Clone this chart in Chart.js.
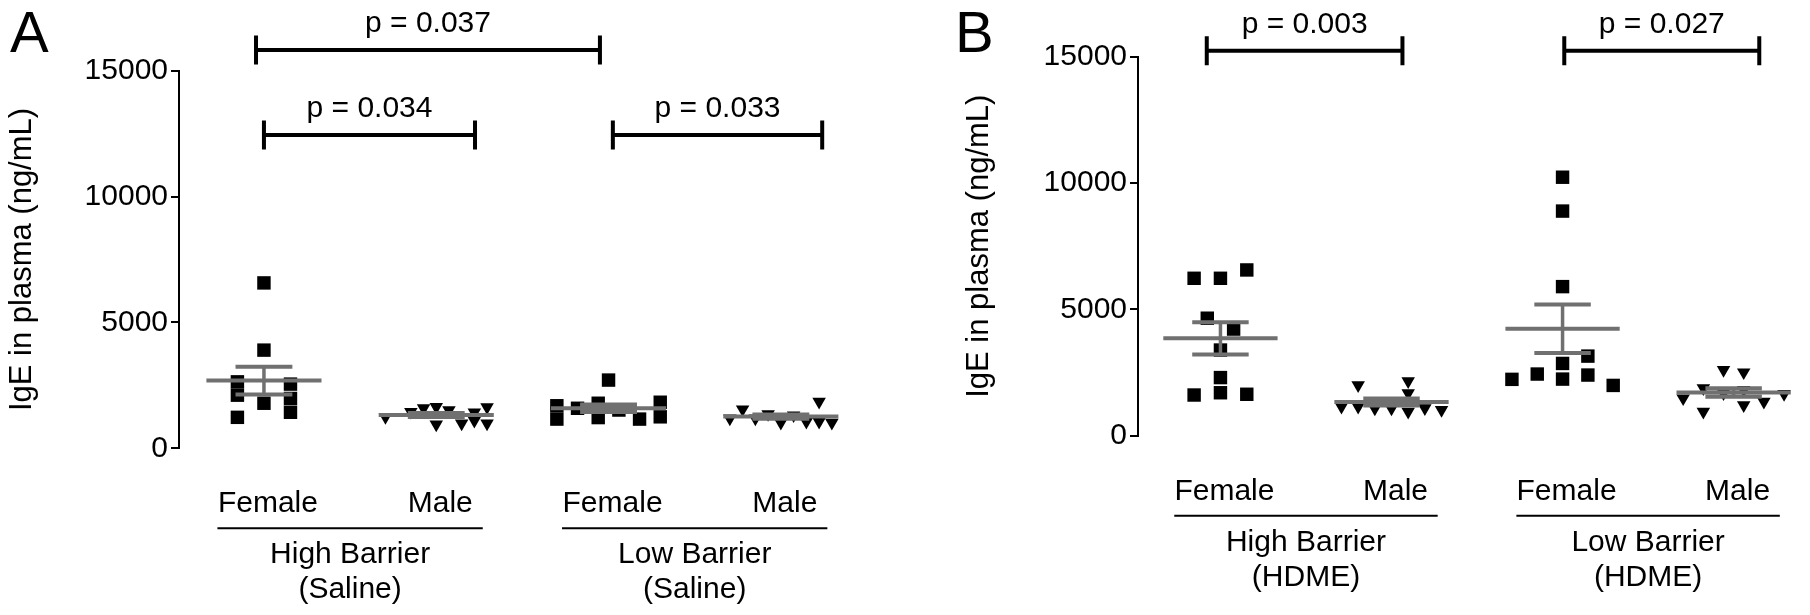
<!DOCTYPE html>
<html>
<head>
<meta charset="utf-8">
<script src="https://cdn.jsdelivr.net/npm/chart.js@4.4.1/dist/chart.umd.min.js"></script>
<style>
  html, body { margin: 0; padding: 0; background: #fff; }
  #wrap { position: relative; width: 1810px; height: 615px; }
  #wrap canvas { position: absolute; top: 0; }
</style>
</head>
<body>
<div id="wrap">
  <canvas id="chartA" width="905" height="615" style="left:0"></canvas>
  <canvas id="chartB" width="905" height="615" style="left:905px"></canvas>
</div>
<script>
// categories and labels
var SEX = ['Female', 'Male', 'Female', 'Male'];
var GROUPS_A = [['High Barrier', '(Saline)'], ['Low Barrier', '(Saline)']];
var GROUPS_B = [['High Barrier', '(HDME)'], ['Low Barrier', '(HDME)']];
var Y_TICKS = [0, 5000, 10000, 15000];

// IgE in plasma (ng/mL)
var salineHighFemale = [6570, 3900, 2640, 2110, 1230, 1790, 2550, 1980, 1430];
var salineHighMale = [1250, 1450, 1590, 1640, 950, 1520, 990, 1430, 1100, 1630, 990];
var salineLowFemale = [1690, 1160, 1590, 1790, 1220, 2710, 1520, 1160, 1830, 1250];
var salineLowMale = [1190, 1550, 1190, 1360, 1020, 1310, 1060, 1850, 1060, 1020];
var hdmeHighFemale = [6230, 1610, 4650, 6230, 3390, 2300, 1700, 4220, 6560, 1640];
var hdmeHighMale = [1150, 2000, 1150, 1080, 1080, 2160, 1680, 950, 1090, 1020];
var hdmeLowFemale = [2230, 2440, 10230, 8890, 5900, 2860, 2240, 3150, 2400, 1990];
var hdmeLowMale = [1480, 950, 1880, 2600, 1680, 2510, 1810, 1210, 1350, 1650];

var pValuesA = ['p = 0.037', 'p = 0.034', 'p = 0.033'];
var pValuesB = ['p = 0.003', 'p = 0.027'];

// layout only: horizontal lanes of the scatter columns
var lanesA = [
    [0, 0, -1, -1, -1, 0, 1, 1, 1],
    [-4, -2, -1, 0, 0, 1, 2, 3, 3, 4, 4],
    [-5, -5, -3, -1, -1, 0, 1, 3, 5, 5],
    [-4, -3, -2, -1, 0, 1, 2, 3, 3, 4]
];
var laneStepA = [0.154, 0.0737, 0.06, 0.074];
var lanesB = [
    [-2, -2, -1, 0, 0, 0, 0, 1, 2, 2],
    [-3, -2, -2, -1, 0, 1, 1, 1, 2, 3],
    [-2, -1, 0, 0, 0, 0, 0, 1, 1, 2],
    [-2.5, -1.5, -1.5, -0.5, -0.5, 0.5, 0.5, 0.5, 1.5, 2.5]
];
var laneStepB = [0.077, 0.0975, 0.148, 0.118];

var FONT = "'Liberation Sans', Arial, sans-serif";
var GREY = '#707070';

function buildDatasets(groups, lanes, steps) {
    return groups.map(function (values, g) {
        var male = g % 2 === 1;
        return {
            data: values.map(function (v, i) {
                return { x: g + lanes[g][i] * steps[g], y: v };
            }),
            pointStyle: male ? 'triangle' : 'rect',
            rotation: male ? 180 : 0,
            pointRadius: male ? 7.8 : 9.5,
            pointHoverRadius: male ? 7.8 : 9.5,
            backgroundColor: '#000',
            borderWidth: 0,
            clip: false
        };
    });
}

function decor(cfg) {
    return {
        id: 'decor',
        afterDatasetsDraw: function (chart) {
            var ctx = chart.ctx, xs = chart.scales.x, ys = chart.scales.y;
            ctx.save();
            ctx.strokeStyle = GREY;
            cfg.groups.forEach(function (vals, g) {
                var n = vals.length, mean = 0, ss = 0, sem, i;
                for (i = 0; i < n; i++) { mean += vals[i]; }
                mean /= n;
                for (i = 0; i < n; i++) { ss += (vals[i] - mean) * (vals[i] - mean); }
                sem = Math.sqrt(ss / (n - 1)) / Math.sqrt(n);
                var yM = ys.getPixelForValue(mean),
                    yHi = ys.getPixelForValue(mean + sem),
                    yLo = ys.getPixelForValue(mean - sem),
                    xc = xs.getPixelForValue(g);
                ctx.lineWidth = 3.5;
                ctx.beginPath();
                ctx.moveTo(xc, yHi); ctx.lineTo(xc, yLo);
                ctx.stroke();
                ctx.lineWidth = 4;
                ctx.beginPath();
                ctx.moveTo(xs.getPixelForValue(g - 0.165), yHi); ctx.lineTo(xs.getPixelForValue(g + 0.165), yHi);
                ctx.moveTo(xs.getPixelForValue(g - 0.165), yLo); ctx.lineTo(xs.getPixelForValue(g + 0.165), yLo);
                ctx.moveTo(xs.getPixelForValue(g - 0.334), yM); ctx.lineTo(xs.getPixelForValue(g + 0.334), yM);
                ctx.stroke();
            });
            ctx.restore();
        },
        afterDraw: function (chart) {
            var ctx = chart.ctx, xs = chart.scales.x, ys = chart.scales.y,
                bottom = chart.chartArea.bottom;
            ctx.save();
            ctx.fillStyle = '#000';
            ctx.strokeStyle = '#000';
            ctx.textAlign = 'center';
            ctx.textBaseline = 'alphabetic';
            ctx.font = '30px ' + FONT;

            // sex labels
            SEX.forEach(function (s, i) {
                ctx.fillText(s, xs.getPixelForValue(i) + 4, bottom + 64);
            });
            // group underline + labels
            cfg.groupLabels.forEach(function (lines, k) {
                var a = 2 * k, b = 2 * k + 1;
                ctx.lineWidth = 2;
                ctx.beginPath();
                ctx.moveTo(xs.getPixelForValue(a - 0.27), bottom + 80);
                ctx.lineTo(xs.getPixelForValue(b + 0.27), bottom + 80);
                ctx.stroke();
                var xc = xs.getPixelForValue(a + 0.5);
                ctx.fillText(lines[0], xc, bottom + 115);
                ctx.fillText(lines[1], xc, bottom + 150);
            });
            // significance brackets
            cfg.brackets.forEach(function (br) {
                var x1 = xs.getPixelForValue(br.from), x2 = xs.getPixelForValue(br.to),
                    y = ys.getPixelForValue(br.y);
                ctx.lineWidth = 4;
                ctx.beginPath();
                ctx.moveTo(x1, y); ctx.lineTo(x2, y);
                ctx.moveTo(x1, y - 14.5); ctx.lineTo(x1, y + 14.5);
                ctx.moveTo(x2, y - 14.5); ctx.lineTo(x2, y + 14.5);
                ctx.stroke();
                ctx.fillText(br.text, (x1 + x2) / 2, y - 18);
            });
            // panel letter
            ctx.textAlign = 'left';
            ctx.font = '58px ' + FONT;
            ctx.fillText(cfg.letter, cfg.letterX, 52);
            ctx.restore();
        }
    };
}

function makePanel(canvasId, cfg) {
    return new Chart(document.getElementById(canvasId).getContext('2d'), {
        type: 'scatter',
        data: { datasets: buildDatasets(cfg.groups, cfg.lanes, cfg.steps) },
        options: {
            responsive: false,
            animation: false,
            devicePixelRatio: 1,
            layout: { padding: cfg.padding },
            plugins: { legend: { display: false }, tooltip: { enabled: false } },
            scales: {
                x: { type: 'linear', min: cfg.xMin, max: cfg.xMax, display: false },
                y: {
                    min: 0,
                    max: 15000,
                    afterFit: function (s) { s.width = cfg.axisWidth; },
                    afterBuildTicks: function (s) {
                        s.ticks = Y_TICKS.map(function (v) { return { value: v }; });
                    },
                    border: { display: true, color: '#000', width: 2 },
                    grid: { drawOnChartArea: false, drawTicks: true, tickLength: 8, color: '#000', lineWidth: 2 },
                    ticks: {
                        color: '#000',
                        padding: 3,
                        font: { size: 30, family: FONT },
                        callback: function (v) { return String(v); }
                    },
                    title: {
                        display: true,
                        text: 'IgE in plasma (ng/mL)',
                        color: '#000',
                        font: { size: 31, family: FONT },
                        padding: { top: cfg.titlePad, bottom: 0 }
                    }
                }
            }
        },
        plugins: [decor(cfg)]
    });
}

makePanel('chartA', {
    groups: [salineHighFemale, salineHighMale, salineLowFemale, salineLowMale],
    lanes: lanesA,
    steps: laneStepA,
    groupLabels: GROUPS_A,
    brackets: [
        { from: -0.046, to: 1.95, y: 15820, text: pValuesA[0] },
        { from: 0, to: 1.225, y: 12450, text: pValuesA[1] },
        { from: 2.025, to: 3.24, y: 12450, text: pValuesA[2] }
    ],
    letter: 'A', letterX: 10,
    axisWidth: 179, titlePad: 4,
    padding: { left: 0, top: 70.7, bottom: 166.7, right: 38 },
    xMin: -0.493, xMax: 3.5
});

makePanel('chartB', {
    groups: [hdmeHighFemale, hdmeHighMale, hdmeLowFemale, hdmeLowMale],
    lanes: lanesB,
    steps: laneStepB,
    groupLabels: GROUPS_B,
    brackets: [
        { from: -0.08, to: 1.064, y: 15240, text: pValuesB[0] },
        { from: 2.01, to: 3.15, y: 15240, text: pValuesB[1] }
    ],
    letter: 'B', letterX: 50,
    axisWidth: 233, titlePad: 56,
    padding: { left: 0, top: 56.7, bottom: 179.3, right: 5 },
    xMin: -0.482, xMax: 3.391
});
</script>
</body>
</html>
